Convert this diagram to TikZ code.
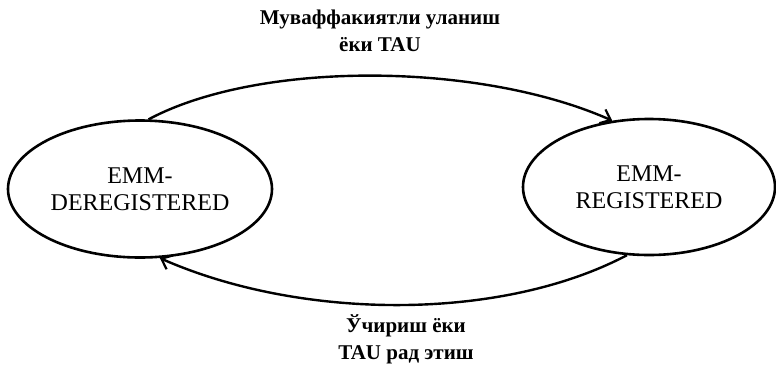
\documentclass[tikz,border=0pt]{standalone}
\usepackage{fontspec}
\setmainfont{Liberation Serif}
\usetikzlibrary{shapes.geometric,arrows.meta}
\tikzset{
  state/.style={ellipse,draw,line width=2.6pt,inner sep=0pt,align=center,
    font=\fontsize{24}{27}\selectfont},
  lbl/.style={align=center,inner sep=0pt,font=\bfseries\fontsize{21}{27}\selectfont},
  conn/.style={line width=2.4pt,-{Straight Barb[length=9pt,width=15pt,line width=2.2pt]}}
}
\begin{document}
\begin{tikzpicture}[x=1pt,y=-1pt]
\useasboundingbox (0,0) rectangle (776,365);
\node[state,minimum width=264pt,minimum height=137pt] (L) at (140,189) {EMM-\\DEREGISTERED};
\node[state,minimum width=252pt,minimum height=136pt] (R) at (649,187) {EMM-\\REGISTERED};
\node[lbl] (T) at (380,31) {Муваффакиятли уланиш\\ёки TAU};
\node[lbl] (B) at (406,339) {Ўчириш ёки\\TAU рад этиш};
\draw[conn] (L.83) .. controls (260,60) and (480,62) .. (R.119);
\draw[conn] (R.252) .. controls (500,322) and (300,320) .. (L.286);
\end{tikzpicture}
\end{document}
